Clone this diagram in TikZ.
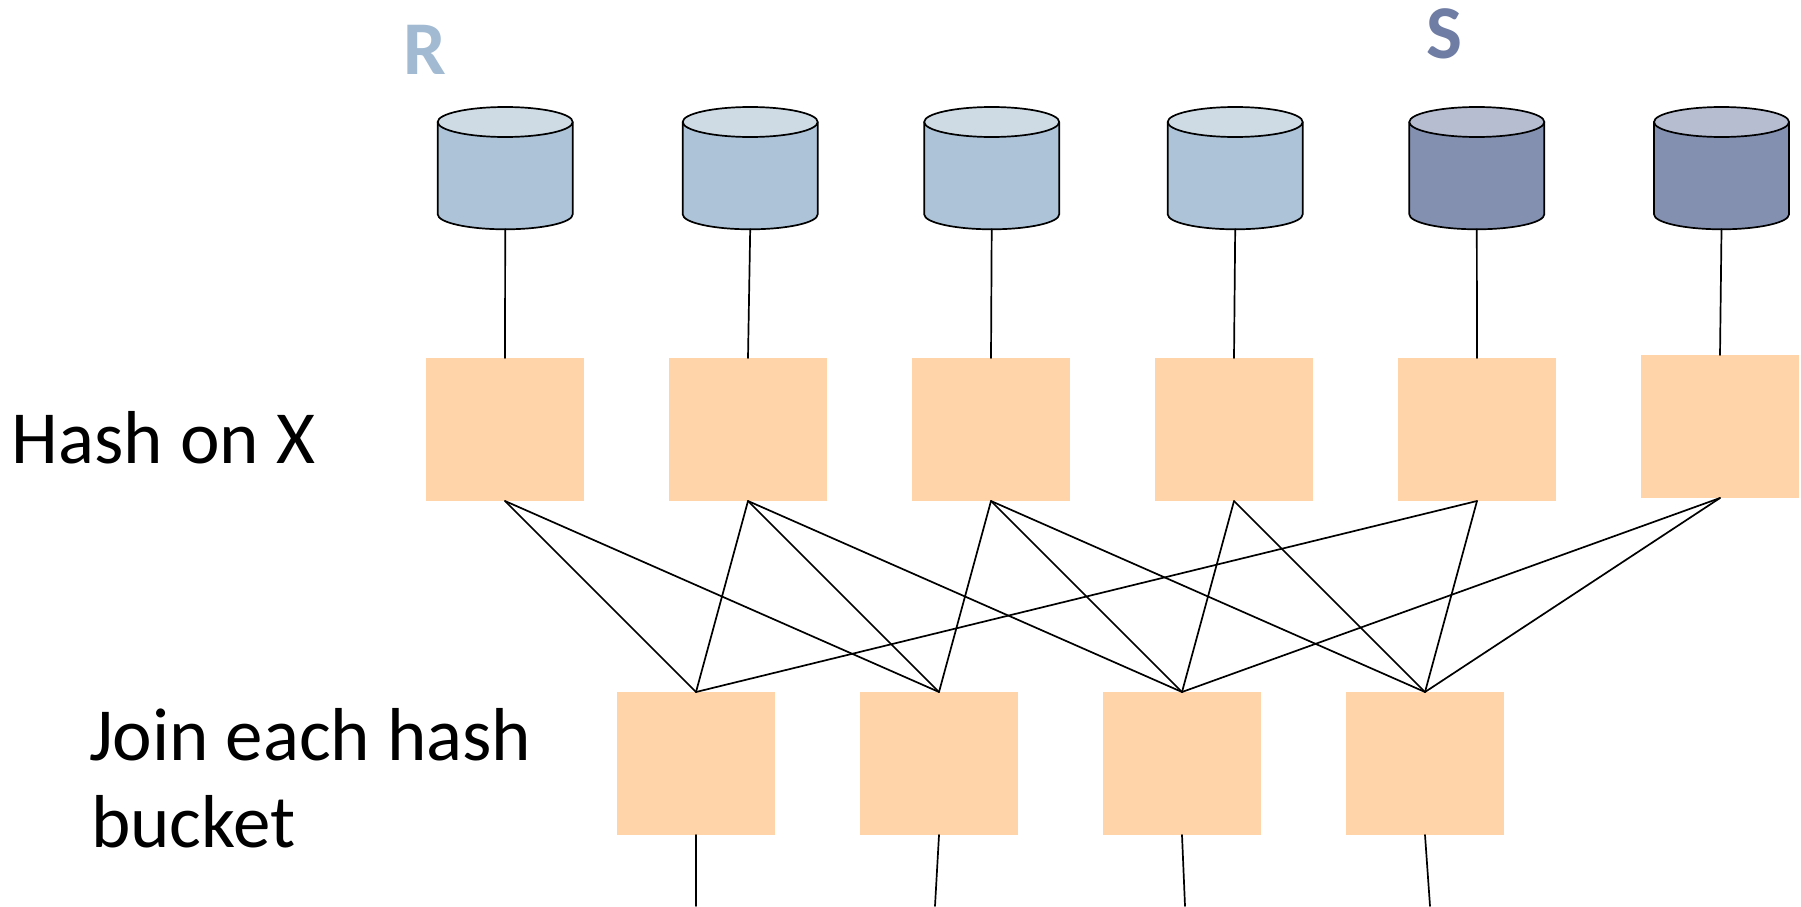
\documentclass[tikz,border=0pt]{standalone}
\usepackage{fontspec}
\setmainfont{Carlito}
\definecolor{boxfill}{HTML}{FFD4A9}
\definecolor{rbody}{HTML}{ADC3D7}
\definecolor{rtop}{HTML}{CEDBE5}
\definecolor{sbody}{HTML}{8390B0}
\definecolor{stop}{HTML}{B6BDD1}
\definecolor{rlabel}{HTML}{A2BBD2}
\definecolor{slabel}{HTML}{6F7CA3}
\tikzset{
  boxnode/.style={fill=boxfill,minimum width=157.5pt,minimum height=143pt,inner sep=0pt,outer sep=0pt},
  cylframe/.style={minimum width=135pt,minimum height=122.4pt,inner sep=0pt,outer sep=0pt},
  link/.style={draw=black,line width=1.7pt,line cap=round,line join=round},
  biglabel/.style={font=\fontsize{75}{87}\selectfont,inner sep=0pt,outer sep=0pt,text=black},
  setlabel/.style={font=\fontsize{76}{80}\selectfont\bfseries,inner sep=0pt,outer sep=0pt}
}
\newcommand{\dbcyl}[4]{%
  \node[cylframe] (#1) at (#2,168.1) {};
  \path[link,fill=#3] (#1.north west) ++(0,15) -- ++(0,92.4)
    arc[start angle=180,end angle=360,x radius=67.5pt,y radius=15pt]
    -- ++(0,-92.4) -- cycle;
  \path[link,fill=#4] (#2,122) ellipse[x radius=67.5pt,y radius=15pt];
}
\begin{document}
\begin{tikzpicture}[x=1pt,y=-1pt]
\useasboundingbox (0,0) rectangle (1801,907);
\dbcyl{c1}{505.2}{rbody}{rtop}
\dbcyl{c2}{750.2}{rbody}{rtop}
\dbcyl{c3}{991.7}{rbody}{rtop}
\dbcyl{c4}{1235.2}{rbody}{rtop}
\dbcyl{c5}{1476.8}{sbody}{stop}
\dbcyl{c6}{1721.5}{sbody}{stop}
\node[boxnode] (t1) at (505,429.5) {};
\node[boxnode] (t2) at (748,429.5) {};
\node[boxnode] (t3) at (991,429.5) {};
\node[boxnode] (t4) at (1234,429.5) {};
\node[boxnode] (t5) at (1477,429.5) {};
\node[boxnode] (t6) at (1720,426.5) {};
\node[boxnode] (b1) at (696,763.5) {};
\node[boxnode] (b2) at (939,763.5) {};
\node[boxnode] (b3) at (1182,763.5) {};
\node[boxnode] (b4) at (1425,763.5) {};
\coordinate (e1) at (696,906);
\coordinate (e2) at (935,906);
\coordinate (e3) at (1185,906);
\coordinate (e4) at (1430,906);
\foreach \i in {1,...,6} \draw[link] (c\i.south) -- (t\i.north);
\foreach \i in {1,...,4} \draw[link] (b\i.south) -- (e\i);
\foreach \a/\b in {1/1,1/2,2/1,2/2,2/3,3/2,3/3,3/4,4/3,4/4,5/1,5/4,6/3,6/4}
  \draw[link] (t\a.south) -- (b\b.north);
\node[biglabel,anchor=base west] (hash) at (12,463.5) {Hash on X};
\node[biglabel,anchor=base west] (join) at (89,760) {Join each hash};
\node[biglabel,anchor=base west] (bucket) at (91,847) {bucket};
\node[setlabel,text=rlabel] (rl) at (425,50) {R};
\node[setlabel,text=slabel] (sl) at (1444,34) {S};
\end{tikzpicture}
\end{document}
